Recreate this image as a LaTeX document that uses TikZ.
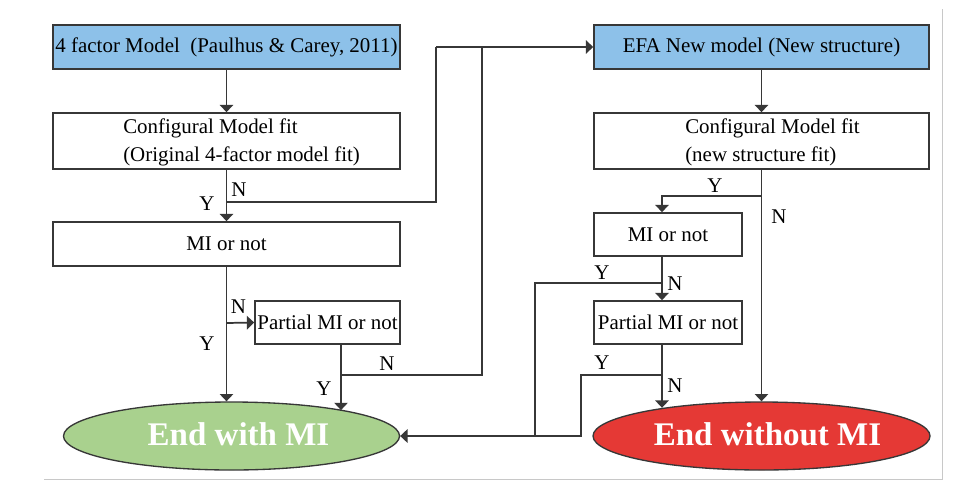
\documentclass[tikz,border=0pt]{standalone}
\usepackage{fontspec}
\setmainfont{Liberation Serif}
\usetikzlibrary{arrows.meta,shapes.geometric}
\definecolor{boxblue}{RGB}{141,193,233}
\definecolor{endgreen}{RGB}{169,209,142}
\definecolor{endred}{RGB}{229,57,53}
\definecolor{linegray}{RGB}{55,55,55}
\definecolor{framegray}{RGB}{200,200,200}
\begin{document}
\begin{tikzpicture}[x=0.75pt,y=-0.75pt,
  box/.style={draw=linegray,line width=1.2pt,rectangle,inner sep=0pt,font=\fontsize{15.7}{18}\selectfont},
  bluebox/.style={box,fill=boxblue},
  txt/.style={inner sep=0pt,font=\fontsize{15.7}{18}\selectfont},
  lab/.style={inner sep=0pt,font=\fontsize{15.7}{18}\selectfont},
  endnode/.style={ellipse,draw=linegray,line width=1pt,inner sep=0pt,minimum width=252pt,minimum height=51pt},
  endtext/.style={inner sep=0pt,text=white,font=\fontsize{24.75}{28}\selectfont\bfseries},
  conn/.style={draw=linegray,line width=1.3pt},
  arr/.style={conn,-{Triangle[length=5.5pt,width=10pt]}}]
\useasboundingbox (0,0) rectangle (961,490);
\fill[white] (0,0) rectangle (961,490);
\draw[framegray,line width=0.75pt] (44,479) -- (942,479) -- (942,9);

% left column
\node[bluebox,minimum width=260.25pt,minimum height=33pt] (B1) at (226.5,47) {4 factor Model\ \ (Paulhus \& Carey, 2011)};
\node[box,minimum width=260.25pt,minimum height=42pt] (B2) at (226.5,141) {};
\node[txt,anchor=base west] (B2a) at (123,133) {Configural Model fit};
\node[txt,anchor=base west] (B2b) at (123,161) {(Original 4-factor model fit)};
\node[box,minimum width=260.25pt,minimum height=33pt] (B3) at (226.5,244) {MI or not};
\node[box,minimum width=108.75pt,minimum height=32.25pt] (B4) at (327.5,322.5) {Partial MI or not};
\node[endnode,fill=endgreen] (G) at (231.5,436) {};
\node[endtext] (Gt) at (238.5,434) {End with MI};

% right column
\node[bluebox,minimum width=251.25pt,minimum height=33pt] (B5) at (761.5,47) {EFA New model (New structure)};
\node[box,minimum width=251.25pt,minimum height=42pt] (B6) at (761.5,141) {};
\node[txt,anchor=base west] (B6a) at (685,133) {Configural Model fit};
\node[txt,anchor=base west] (B6b) at (685,161) {(new structure fit)};
\node[box,minimum width=111pt,minimum height=32.25pt] (B7) at (668,234.5) {MI or not};
\node[box,minimum width=111pt,minimum height=32.25pt] (B8) at (668,322.5) {Partial MI or not};
\node[endnode,fill=endred,minimum width=252.75pt] (R) at (761.5,436) {};
\node[endtext] (Rt) at (767.5,434) {End without MI};

% coordinates
\coordinate (nL) at (226.5,202);
\coordinate (k1) at (436,202);
\coordinate (k2) at (436,47);
\coordinate (k3) at (482,47);
\coordinate (mL) at (226.5,323);
\coordinate (pL) at (341,344);
\coordinate (pLb) at (341,375);
\coordinate (k4) at (482,375);
\coordinate (yR) at (761.5,196);
\coordinate (yR2) at (662,196);
\coordinate (mR2) at (662,283);
\coordinate (m3) at (535,283);
\coordinate (m4) at (535,436);
\coordinate (q1) at (662,375);
\coordinate (q2) at (581,375);
\coordinate (q3) at (581,436);

% left connectors
\draw[arr] (B1) -- (B2);
\draw[arr] (B2) -- (B3);
\draw[conn] (nL) -- (k1) -- (k2);
\draw[arr] (k2) -- (B5.west);
\draw[arr] (B3.south) -- (B3.south |- G.north);
\draw[arr] (mL) -- (B4.west);
\draw[arr] (pL) -- (pL |- G.13.3);
\draw[conn] (pLb) -- (k4) -- (k3);

% right connectors
\draw[arr] (B5) -- (B6);
\draw[arr] (B6) -- (R);
\draw[arr] (yR) -- (yR2) -- (yR2 |- B7.north);
\draw[arr] (yR2 |- B7.south) -- (yR2 |- B8.north);
\draw[conn] (mR2) -- (m3) -- (m4);
\draw[arr] (yR2 |- B8.south) -- (yR2 |- R.164.6);
\draw[arr] (q1) -- (q2) -- (q3) -- (G.east);

% labels
\node[lab] (l1) at (239,190) {N};
\node[lab] (l2) at (207,204) {Y};
\node[lab] (l3) at (238.5,306.5) {N};
\node[lab] (l4) at (207,344) {Y};
\node[lab] (l5) at (387,364) {N};
\node[lab] (l6) at (324,389) {Y};
\node[lab] (l7) at (715,186) {Y};
\node[lab] (l8) at (779,217) {N};
\node[lab] (l9) at (602,272.5) {Y};
\node[lab] (l10) at (675,284) {N};
\node[lab] (l11) at (602,363) {Y};
\node[lab] (l12) at (675,386) {N};
\end{tikzpicture}
\end{document}
